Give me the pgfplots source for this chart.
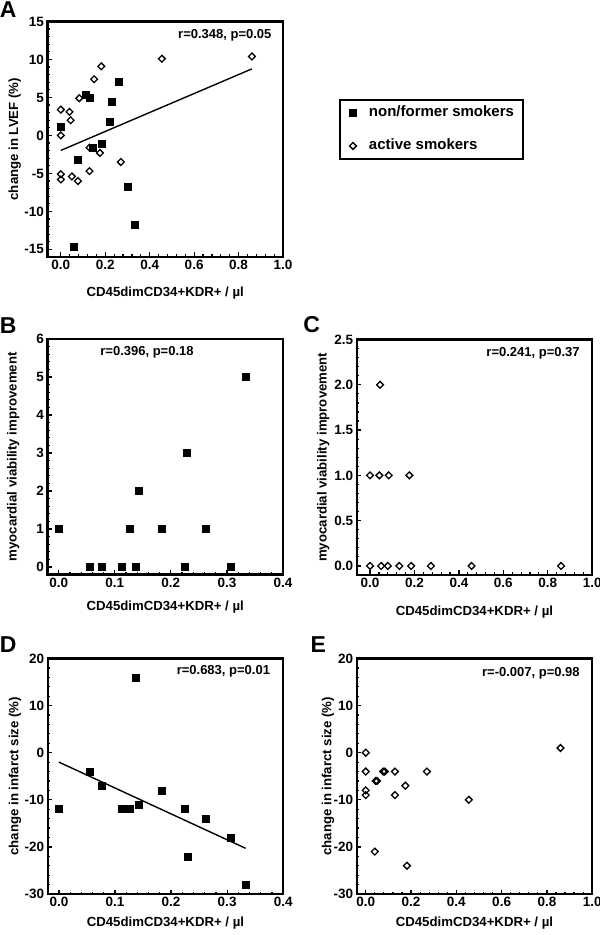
\documentclass[border=0pt]{standalone}
\usepackage{fontspec}
\setmainfont{Liberation Sans}
\usepackage{pgfplots}
\pgfplotsset{compat=1.18}
\newcommand\tlf{\fontsize{13.5}{13.5}\selectfont\bfseries}
\tikzset{ann/.style={font=\fontsize{13}{13}\selectfont\bfseries}}
\begin{document}
\begin{tikzpicture}
\useasboundingbox (0pt,0pt) rectangle (600pt,935pt);
\pgfplotsset{
  panel/.style={
    scale only axis, width=235.5pt, height=235.5pt,
    axis line style={line width=2.2pt},
    every tick/.style={black, line width=1.2pt},
    major tick length=4.5pt, minor tick length=2.5pt,
    tick align=inside, xtick pos=bottom, ytick pos=left,
    /pgf/number format/assume math mode=true,
    xticklabel={\tlf\pgfmathprintnumber{\tick}},
    yticklabel={\tlf\pgfmathprintnumber{\tick}},
    xticklabel style={font=\tlf}, yticklabel style={font=\tlf},
    label style={font=\fontsize{13.2}{13.2}\selectfont\bfseries},
    xlabel={CD45dimCD34+KDR+ / µl},
    minor x tick num=4, minor y tick num=4,
    clip=false,
  },
  onedec/.style={/pgf/number format/.cd, fixed, fixed zerofill, precision=1},
  sq/.style={only marks, mark=square*, mark size=3.5pt, mark options={fill=black, draw=black, line width=0.5pt}},
  dm/.style={only marks, mark=square, mark size=2.4pt, mark options={rotate=45, line width=1.3pt, fill=white, draw=black}},
  rl/.style={black, line width=1.4pt, no marks, forget plot},
}
% Panel A
\begin{axis}[panel, at={(47.5pt,678pt)}, anchor=south west,
  xmin=-0.06, xmax=1.0, ymin=-16, ymax=15,
  xtick={0,0.2,0.4,0.6,0.8,1}, ytick={-15,-10,-5,0,5,10,15},
  xticklabel style={onedec},
  ylabel={change in LVEF (\%)},
  ylabel style={at={(axis description cs:-0.139,0.5)}, anchor=center},
  xlabel style={at={(axis description cs:0.5,-0.153)}, anchor=center},
  legend style={at={(axis description cs:1.6306,0.5415)}, anchor=center,
    draw=black, line width=2pt, font=\fontsize{15}{15}\selectfont\bfseries,
    inner xsep=9pt, inner ysep=6pt, row sep=19pt,
    nodes={inner sep=0pt, text height=11pt, text depth=3pt}},
  legend cell align=left,
  legend image code/.code={\draw[#1] plot coordinates {(0pt,0pt)}; \path[draw=none] (-4pt,0pt) -- (16pt,0pt);},
]
\addplot[rl] coordinates {(0,-1.97) (0.86,8.76)};
\addplot[sq] coordinates {
(0,1.2) (0.113,5.3) (0.129,4.9) (0.26,7.1) (0.227,4.4) (0.222,1.8)
(0.144,-1.6) (0.185,-1.1) (0.076,-3.2) (0.303,-6.8) (0.332,-11.8) (0.056,-14.7)};
\addlegendentry{non/former smokers}
\addplot[dm] coordinates {
(0,3.4) (0,0) (0,-5.1) (0,-5.8) (0.039,3.1) (0.044,2.0) (0.05,-5.4)
(0.077,-6.0) (0.083,4.9) (0.129,-1.6) (0.129,-4.7) (0.15,7.4) (0.176,-2.3)
(0.182,9.1) (0.27,-3.5) (0.455,10.1) (0.86,10.4)};
\addlegendentry{active smokers}
\node[ann, anchor=east] at (axis description cs:0.966,0.941) {r=0.348, p=0.05};
\end{axis}
% Panel B
\begin{axis}[panel, at={(47.5pt,360.5pt)}, anchor=south west,
  xmin=-0.02, xmax=0.4, ymin=-0.2, ymax=6,
  xtick={0,0.1,0.2,0.3,0.4}, ytick={0,1,2,3,4,5,6},
  xticklabel style={onedec},
  ylabel={myocardial viability improvement},
  ylabel style={at={(axis description cs:-0.146,0.5)}, anchor=center},
  xlabel style={at={(axis description cs:0.5,-0.137)}, anchor=center},
]
\addplot[sq] coordinates {
(0,1) (0.055,0) (0.076,0) (0.112,0) (0.126,1) (0.137,0) (0.143,2)
(0.183,1) (0.224,0) (0.229,3) (0.262,1) (0.306,0) (0.333,5)};
\node[ann, anchor=center] at (axis description cs:0.4225,0.943) {r=0.396, p=0.18};
\end{axis}
% Panel C
\begin{axis}[panel, at={(356.7pt,360pt)}, anchor=south west,
  xmin=-0.06, xmax=1.0, ymin=-0.1, ymax=2.5,
  xtick={0,0.2,0.4,0.6,0.8,1}, ytick={0,0.5,1,1.5,2,2.5},
  xticklabel style={onedec}, yticklabel style={onedec},
  ylabel={myocardial viability improvement},
  ylabel style={at={(axis description cs:-0.142,0.5)}, anchor=center},
  xlabel style={at={(axis description cs:0.5,-0.156)}, anchor=center},
]
\addplot[dm] coordinates {
(0,0) (0.05,0) (0.08,0) (0.132,0) (0.185,0) (0.274,0) (0.457,0) (0.86,0)
(0,1) (0.042,1) (0.084,1) (0.177,1) (0.045,2)};
\node[ann, anchor=east] at (axis description cs:0.962,0.94) {r=0.241, p=0.37};
\end{axis}
% Panel D
\begin{axis}[panel, at={(47.7pt,41pt)}, anchor=south west,
  xmin=-0.02, xmax=0.4, ymin=-30, ymax=20,
  xtick={0,0.1,0.2,0.3,0.4}, ytick={-30,-20,-10,0,10,20},
  xticklabel style={onedec},
  ylabel={change in infarct size (\%)},
  ylabel style={at={(axis description cs:-0.139,0.5)}, anchor=center},
  xlabel style={at={(axis description cs:0.5,-0.125)}, anchor=center},
]
\addplot[rl] coordinates {(0,-2.0) (0.333,-20.3)};
\addplot[sq] coordinates {
(0,-12) (0.055,-4) (0.076,-7) (0.112,-12) (0.126,-12) (0.137,16) (0.143,-11)
(0.183,-8) (0.224,-12) (0.229,-22) (0.262,-14) (0.306,-18) (0.333,-28)};
\node[ann, anchor=east] at (axis description cs:0.959,0.944) {r=0.683, p=0.01};
\end{axis}
% Panel E
\begin{axis}[panel, at={(356.7pt,41pt)}, anchor=south west,
  xmin=-0.04, xmax=1.0, ymin=-30, ymax=20,
  xtick={0,0.2,0.4,0.6,0.8,1}, ytick={-30,-20,-10,0,10,20},
  xticklabel style={onedec},
  ylabel={change in infarct size (\%)},
  ylabel style={at={(axis description cs:-0.122,0.5)}, anchor=center},
  xlabel style={at={(axis description cs:0.5,-0.125)}, anchor=center},
]
\addplot[dm] coordinates {
(0,0) (0,-4) (0,-8) (0,-9) (0.04,-21) (0.044,-6) (0.05,-6) (0.077,-4)
(0.084,-4) (0.129,-4) (0.129,-9) (0.175,-7) (0.182,-24) (0.27,-4)
(0.455,-10) (0.86,1)};
\node[ann, anchor=east] at (axis description cs:0.962,0.937) {r=-0.007, p=0.98};
\end{axis}
\begin{scope}[every node/.style={font=\fontsize{23}{23}\selectfont\bfseries}]
\node at (8.3pt,925pt) {A};
\node at (8.3pt,609.2pt) {B};
\node at (311.7pt,610pt) {C};
\node at (8.3pt,290pt) {D};
\node at (318.3pt,290pt) {E};
\end{scope}
\end{tikzpicture}
\end{document}
